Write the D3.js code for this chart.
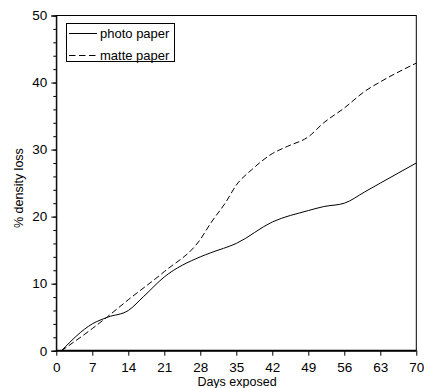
<!DOCTYPE html>
<html>
<head>
<meta charset="utf-8">
<script src="https://cdn.jsdelivr.net/npm/d3@7"></script>
<style>
body { margin: 0; background: #fff; }
svg { display: block; }
text { font-family: "Liberation Sans", Arial, sans-serif; fill: #000; }
</style>
</head>
<body>
<svg id="chart" width="424" height="388"></svg>
<script>
// values
var days = [1, 7, 10, 14, 17, 21, 28, 30, 35, 42, 49, 52, 56, 60, 63, 70];
var photo = [0, 4.0, 5.0, 6.0, 8.1, 11.0, 14.0, 14.6, 16.0, 19.2, 20.9, 21.5, 22.0, 23.7, 25.0, 28.0];
var matteDays = [1, 7, 10, 14, 21, 28, 30, 33, 35, 38, 42, 45, 49, 52, 56, 60, 63, 70];
var matte = [0, 3.3, 5.1, 7.6, 11.8, 16.6, 19.0, 22.2, 24.7, 27.0, 29.4, 30.5, 31.9, 34.0, 36.2, 38.7, 40.1, 42.9];
var xTicks = [0, 7, 14, 21, 28, 35, 42, 49, 56, 63, 70];
var yTicks = [0, 10, 20, 30, 40, 50];
var yMinor = d3.range(0, 51, 2);
var seriesNames = ["photo paper", "matte paper"];

var svg = d3.select("#chart");

var x = d3.scaleLinear().domain([0, 70]).range([56.3, 416.3]);
var y = d3.scaleLinear().domain([0, 50]).range([350.7, 15.5]);

// frame
svg.append("rect")
	.attr("x", x(0)).attr("y", y(50))
	.attr("width", x(70) - x(0)).attr("height", y(0) - y(50))
	.attr("fill", "none").attr("stroke", "#000").attr("stroke-width", 1);

// y axis minor ticks
svg.append("g")
	.attr("transform", "translate(" + x(0) + ",0)")
	.call(d3.axisLeft(y).tickValues(yMinor).tickSize(3).tickFormat(""))
	.call(function(g) { g.select(".domain").remove(); });

// y axis
var gy = svg.append("g")
	.attr("transform", "translate(" + x(0) + ",0)")
	.call(d3.axisLeft(y).tickValues(yTicks).tickSize(5).tickPadding(4).tickFormat(d3.format("d")));
gy.select(".domain").attr("stroke", "#000");
gy.selectAll("text").attr("font-size", 13.5).attr("font-family", "Liberation Sans, Arial, sans-serif");

// x axis
var gx = svg.append("g")
	.attr("transform", "translate(0," + y(0) + ")")
	.call(d3.axisBottom(x).tickValues(xTicks).tickSize(5).tickPadding(7).tickFormat(d3.format("d")));
gx.select(".domain").attr("stroke-width", 2).attr("d", "M" + x(0) + ",0H" + x(70));
gx.selectAll("text").attr("font-size", 13.5).attr("font-family", "Liberation Sans, Arial, sans-serif");

// axis titles
svg.append("text")
	.attr("x", 237).attr("y", 385.5)
	.attr("text-anchor", "middle").attr("font-size", 12.5)
	.text("Days exposed");

svg.append("text")
	.attr("transform", "translate(22.5," + ((y(0) + y(50)) / 2 + 5) + ") rotate(-90)")
	.attr("text-anchor", "middle").attr("font-size", 12.5)
	.text("% density loss");

// lines
var line = d3.line()
	.x(function(d) { return x(d[0]); })
	.y(function(d) { return y(d[1]); })
	.curve(d3.curveMonotoneX);

svg.append("path")
	.datum(d3.zip(days, photo))
	.attr("d", line)
	.attr("fill", "none").attr("stroke", "#000").attr("stroke-width", 1);

svg.append("path")
	.datum(d3.zip(matteDays, matte))
	.attr("d", line)
	.attr("fill", "none").attr("stroke", "#000").attr("stroke-width", 1)
	.attr("stroke-dasharray", "6,3");

// legend
var lg = svg.append("g");
lg.append("rect")
	.attr("x", 66.5).attr("y", 23.5).attr("width", 108).attr("height", 38)
	.attr("fill", "#fff").attr("stroke", "#000");
seriesNames.forEach(function(name, i) {
	var ly = 33.5 + i * 22;
	lg.append("line")
		.attr("x1", 69).attr("x2", 97).attr("y1", ly).attr("y2", ly)
		.attr("stroke", "#000")
		.attr("stroke-dasharray", i == 1 ? "6.5,3.5" : null);
	lg.append("text")
		.attr("x", 100).attr("y", ly + 4.5)
		.attr("font-size", 13)
		.text(name);
});
</script>
</body>
</html>
